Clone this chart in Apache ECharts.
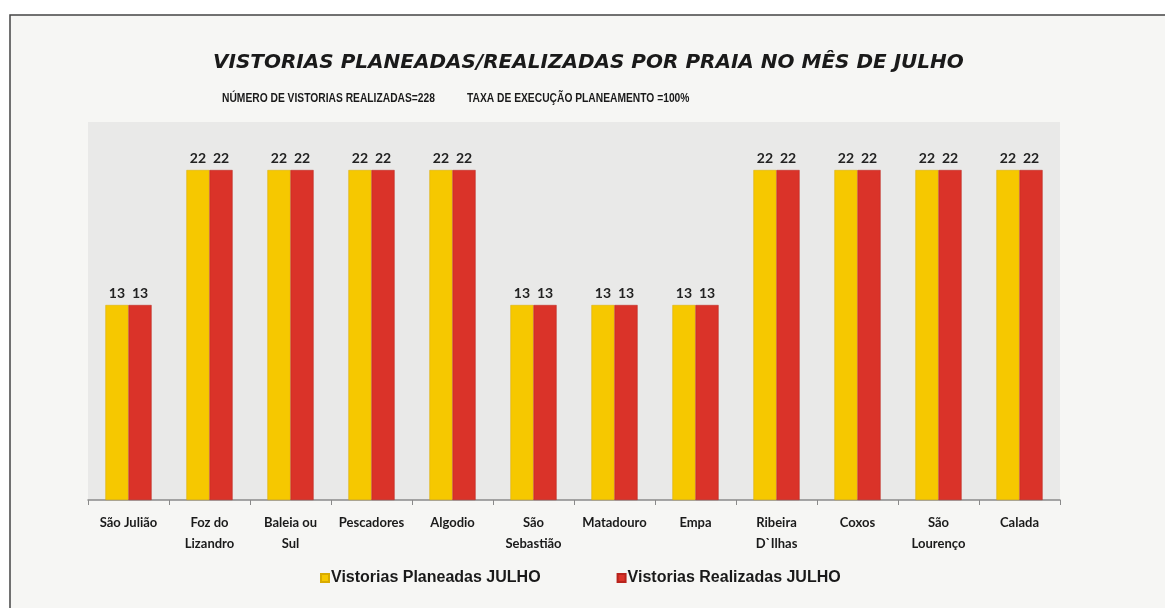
<!DOCTYPE html>
<html>
<head>
    <title>Vistorias Julho</title>
    <meta charset="utf-8">
    <script src="https://cdn.jsdelivr.net/npm/echarts@6/dist/echarts.min.js"></script>
    <style>
        html, body { margin: 0; padding: 0; background: #ffffff; }
    </style>
</head>
<body>
    <div id="main" style="width: 1165px;height:608px;"></div>

    <script type="text/javascript">
        var categories = ['São Julião', 'Foz do\nLizandro', 'Baleia ou\nSul', 'Pescadores', 'Algodio',
            'São\nSebastião', 'Matadouro', 'Empa', 'Ribeira\nD`Ilhas', 'Coxos', 'São\nLourenço', 'Calada'];
        var planeadas = [13, 22, 22, 22, 22, 13, 13, 13, 22, 22, 22, 22];
        var realizadas = [13, 22, 22, 22, 22, 13, 13, 13, 22, 22, 22, 22];
        var seriesNames = ['Vistorias Planeadas JULHO', 'Vistorias Realizadas JULHO'];
        var subtitles = ['NÚMERO DE VISTORIAS REALIZADAS=228', 'TAXA DE EXECUÇÃO PLANEAMENTO =100%'];

        var myChart = echarts.init(document.getElementById('main'));

        var valueLabel = {
            show: true,
            position: 'top',
            distance: 5,
            color: '#222',
            fontFamily: 'Lato',
            fontWeight: 'bold',
            fontSize: 14
        };

        // narrow bold font for the two subtitle lines (squeezed Arial look)
        function subText(txt, x) {
            return {
                type: 'text',
                x: x,
                y: 92,
                scaleX: 0.79,
                style: {
                    text: txt,
                    fontFamily: 'Liberation Sans',
                    fontWeight: 'bold',
                    fontSize: 13,
                    fill: '#1a1a1a'
                }
            };
        }

        var option = {
            backgroundColor: '#ffffff',
            animation: false,
            graphic: [{
                // scanned page frame
                type: 'rect',
                z: -10,
                shape: { x: 10, y: 15, width: 1160, height: 600 },
                style: { fill: '#f6f6f4', stroke: '#444', lineWidth: 1.5 }
            }, {
                // plot area background
                type: 'rect',
                z: -5,
                shape: { x: 88, y: 122, width: 972, height: 378 },
                style: { fill: '#e9e9e8' }
            },
                subText(subtitles[0], 222),
                subText(subtitles[1], 467)
            ],
            title: {
                text: 'VISTORIAS PLANEADAS/REALIZADAS POR PRAIA NO MÊS DE JULHO',
                left: 208,
                top: 48,
                textStyle: {
                    fontFamily: 'DejaVu Sans',
                    fontStyle: 'italic',
                    fontWeight: 'bold',
                    fontSize: 20,
                    color: '#1a1a1a'
                }
            },
            legend: {
                data: seriesNames,
                bottom: 17,
                left: 315,
                itemGap: 76,
                itemWidth: 8,
                itemHeight: 8,
                icon: 'rect',
                textStyle: {
                    fontFamily: 'Liberation Sans',
                    fontWeight: 'bold',
                    fontSize: 16,
                    color: '#1a1a1a',
                    padding: [0, 0, 0, -3]
                }
            },
            grid: {
                left: 88,
                right: 105,
                top: 125,
                bottom: 108
            },
            xAxis: {
                type: 'category',
                data: categories,
                axisLine: { lineStyle: { color: '#8a8a8a', width: 1.5 } },
                axisTick: { show: true, length: 5, lineStyle: { color: '#8a8a8a' } },
                axisLabel: {
                    interval: 0,
                    margin: 12,
                    color: '#1a1a1a',
                    fontFamily: 'Lato',
                    fontWeight: 'bold',
                    fontSize: 13,
                    lineHeight: 21
                }
            },
            yAxis: {
                type: 'value',
                min: 0,
                max: 25,
                show: false,
                splitLine: { show: false }
            },
            series: [{
                name: seriesNames[0],
                type: 'bar',
                barGap: '0%',
                barCategoryGap: '43%',
                itemStyle: { color: '#f6c800', borderColor: '#d9ab00', borderWidth: 0.5 },
                label: valueLabel,
                data: planeadas
            }, {
                name: seriesNames[1],
                type: 'bar',
                itemStyle: { color: '#da3329', borderColor: '#b8231c', borderWidth: 0.5 },
                label: valueLabel,
                data: realizadas
            }]
        };

        myChart.setOption(option);
    </script>
</body>
</html>
